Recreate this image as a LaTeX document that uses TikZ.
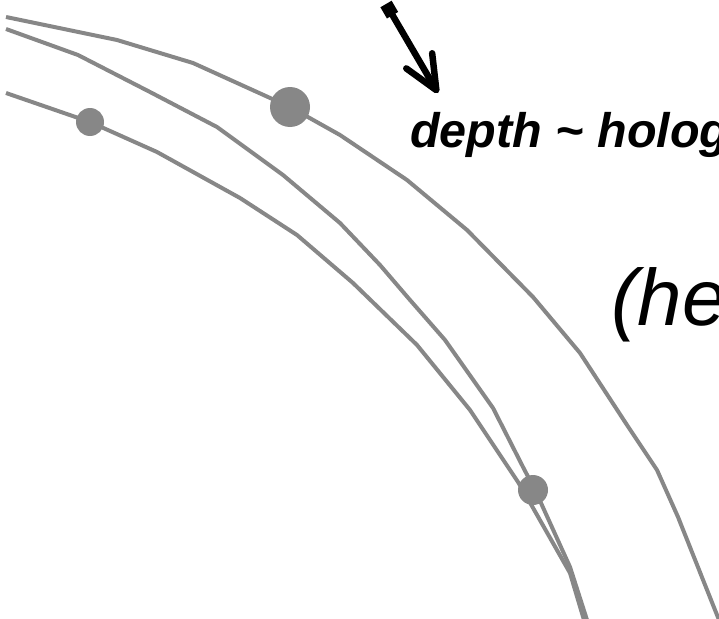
\documentclass[tikz,border=0pt]{standalone}
\usepackage{fontspec}
\setmainfont{Liberation Sans}
\usetikzlibrary{positioning,arrows.meta}
\definecolor{ink}{HTML}{000000}
\definecolor{trackgray}{HTML}{878787}
\tikzset{
  track/.style={draw=trackgray, line width=4pt, line join=round},
  hit/.style={circle, fill=trackgray, inner sep=0pt, minimum size=#1},
  lab/.style={text=ink, inner sep=0pt, anchor=base west},
  pointer/.style={draw=ink, line width=6.5pt,
                  {Square[length=13pt,width=13pt]}-{Straight Barb[length=34pt,width=30pt,round]}},
}

\begin{document}
\begin{tikzpicture}[x=1pt, y=-1pt]
  \useasboundingbox (0,0) rectangle (719,618);
  % hits
  \node[hit=40pt] (hitA) at (290,107) {};
  \node[hit=28pt] (hitC) at (90,122) {};
  \node[hit=30pt] (hitBC) at (533,490) {};
  % tracks
  \draw[track] (6,17) -- (117,40) -- (193,63) -- (hitA.center) -- (340,135) -- (407,180) -- (467,230)
    -- (533,297) -- (580,353) -- (627,425) -- (657,470) -- (678,517) -- (719,620);
  \draw[track] (6,29) -- (78,55) -- (150,92) -- (217,127) -- (283,175) -- (340,223) -- (380,265)
    -- (410,300) -- (445,340) -- (493,408) -- (523,467) -- (536,492) -- (570,567) -- (587,620);
  \draw[track] (6,93) -- (hitC.center) -- (157,152) -- (240,198) -- (297,235) -- (353,283) -- (417,345)
    -- (470,410) -- (518,482) -- (524,492) -- (570,573) -- (584,620);
  % pointer
  \coordinate (pinTail) at (386,4);
  \coordinate (pinTip) at (438,93);
  \draw[pointer] (pinTail) -- (pinTip);
  % labels
  \node[lab, font=\fontsize{48.5}{58}\selectfont\bfseries\itshape] (depthLabel) at (410,147) {depth \textasciitilde{} holog};
  \node[lab, font=\fontsize{80}{96}\selectfont\itshape] (heLabel) at (611,325) {(he};
\end{tikzpicture}
\end{document}
